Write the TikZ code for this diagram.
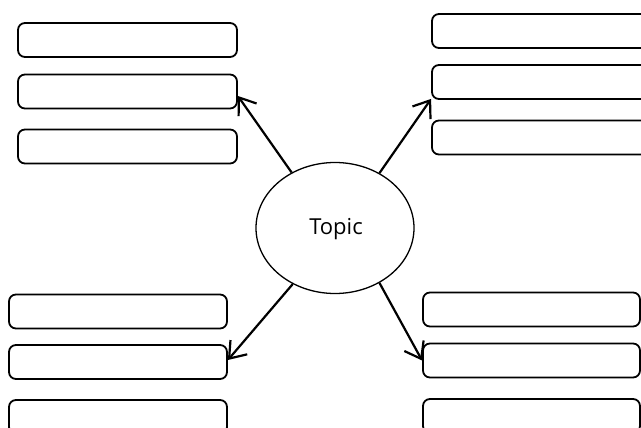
\documentclass[tikz,border=0pt]{standalone}
\usepackage{fontspec}
\setmainfont{Open Sans}
\usetikzlibrary{shapes.geometric,arrows.meta}
\begin{document}
\begin{tikzpicture}[x=1pt,y=-1pt,
  itembox/.style={draw=black, line width=1.8pt, rounded corners=7pt, inner sep=0pt, minimum height=34pt},
  topicnode/.style={draw=black, ellipse, line width=1.3pt, inner sep=0pt, minimum width=158pt, minimum height=131pt},
  topiclabel/.style={inner sep=0pt, font=\fontsize{22}{26}\selectfont},
  link/.style={line width=2.2pt, -{Straight Barb[length=15pt,width=22pt,line width=2.2pt]}}]
\useasboundingbox (0,0) rectangle (641,428);
\clip (0,0) rectangle (641,428);
\fill[white] (0,0) rectangle (641,428);
% top-left boxes
\node[itembox, minimum width=219pt] (tl1) at (127.5,40) {};
\node[itembox, minimum width=219pt] (tl2) at (127.5,91.5) {};
\node[itembox, minimum width=219pt] (tl3) at (127.5,146.5) {};
% top-right boxes
\node[itembox, minimum width=230pt] (tr1) at (547,31) {};
\node[itembox, minimum width=230pt] (tr2) at (547,82) {};
\node[itembox, minimum width=230pt] (tr3) at (547,137.5) {};
% bottom-left boxes
\node[itembox, minimum width=218pt] (bl1) at (118,311.5) {};
\node[itembox, minimum width=218pt] (bl2) at (118,362) {};
\node[itembox, minimum width=218pt] (bl3) at (118,417) {};
% bottom-right boxes
\node[itembox, minimum width=217pt] (br1) at (531.5,309.5) {};
\node[itembox, minimum width=217pt] (br2) at (531.5,360.5) {};
\node[itembox, minimum width=217pt] (br3) at (531.5,416) {};
% topic
\node[topicnode] (topic) at (335,228) {};
\node[topiclabel] (topictext) at (336,229) {Topic};
% connectors
\draw[link] (topic.128) -- ([yshift=-4.5pt]tl2.east);
\draw[link] (topic.51) -- ([yshift=1pt]tr2.south west);
\draw[link] (topic.233) -- ([yshift=2pt]bl2.east);
\draw[link] (topic.309) -- (br2.west);
\end{tikzpicture}
\end{document}
